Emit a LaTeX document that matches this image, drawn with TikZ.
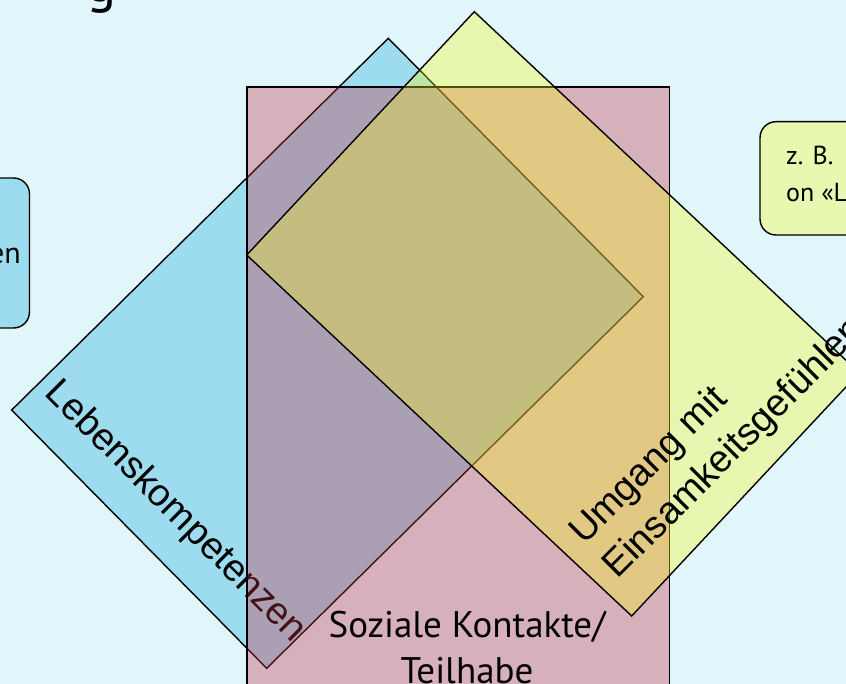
\documentclass[tikz,border=0pt]{standalone}
\usepackage{fontspec}
\setmainfont{PT Sans}
\newfontfamily\arialfont{Liberation Sans}
\definecolor{bgcol}{RGB}{224,246,250}
\definecolor{bluefill}{RGB}{157,220,238}
\definecolor{pinkfill}{RGB}{198,49,70}
\definecolor{yellowfill}{RGB}{249,252,19}
\definecolor{boxyellow}{RGB}{232,248,176}
\tikzset{
	area/.style={draw=black,line width=1.4pt},
	lbl/.style={font=\arialfont\fontsize{38}{48}\selectfont},
	infobox/.style={draw=black,line width=1.4pt,rounded corners=16pt},
}
\begin{document}
\begin{tikzpicture}[x=1pt,y=-1pt]
	\useasboundingbox (0,0) rectangle (846,684);
	\fill[bgcol] (0,0) rectangle (846,684);
	\clip (0,0) rectangle (846,684);
	% Lebenskompetenzen
	\coordinate (bl) at (11.7,410);
	\coordinate (bt) at (388.3,38.3);
	\coordinate (br) at (643.3,296.7);
	\coordinate (bb) at (266.7,668.3);
	\draw[area,fill=bluefill] (bl) -- (bt) -- (br) -- (bb) -- cycle;
	\node[lbl,rotate=-45] (leben) at (175,512) {Lebenskompetenzen};
	% Soziale Kontakte
	\coordinate (pa) at (247,87);
	\coordinate (pb) at (669.5,720);
	\draw[area,fill=pinkfill,fill opacity=0.35] (pa) rectangle (pb);
	% Einsamkeit
	\coordinate (yl) at (246.7,255);
	\coordinate (yt) at (474.3,11.7);
	\coordinate (yr) at (859.3,372.7);
	\coordinate (yb) at (631.7,616);
	\draw[area,fill=yellowfill,fill opacity=0.32] (yl) -- (yt) -- (yr) -- (yb) -- cycle;
	\node[lbl,rotate=45,align=left] (umgang) at (718,432) {Umgang mit\\Einsamkeitsgefühlen};
	\node[font=\fontsize{37}{46}\selectfont,align=center,anchor=base] (soziale) at (467,683) {Soziale Kontakte/\\Teilhabe};
	% Kaestchen links und rechts
	\draw[infobox,fill=bluefill] (-40,178) rectangle (29.5,328);
	\node[font=\fontsize{30}{36}\selectfont,anchor=base east,inner sep=0pt] (links) at (21,264) {en};
	\draw[infobox,fill=boxyellow] (760,121.7) rectangle (900,235);
	\node[font=\fontsize{26}{37}\selectfont,anchor=base west,align=left,inner sep=0pt] (rechts) at (786,202) {z. B.\\on «L};
	\node[font=\fontsize{56}{60}\selectfont,anchor=base] (titel) at (102,2) {g};
\end{tikzpicture}
\end{document}
